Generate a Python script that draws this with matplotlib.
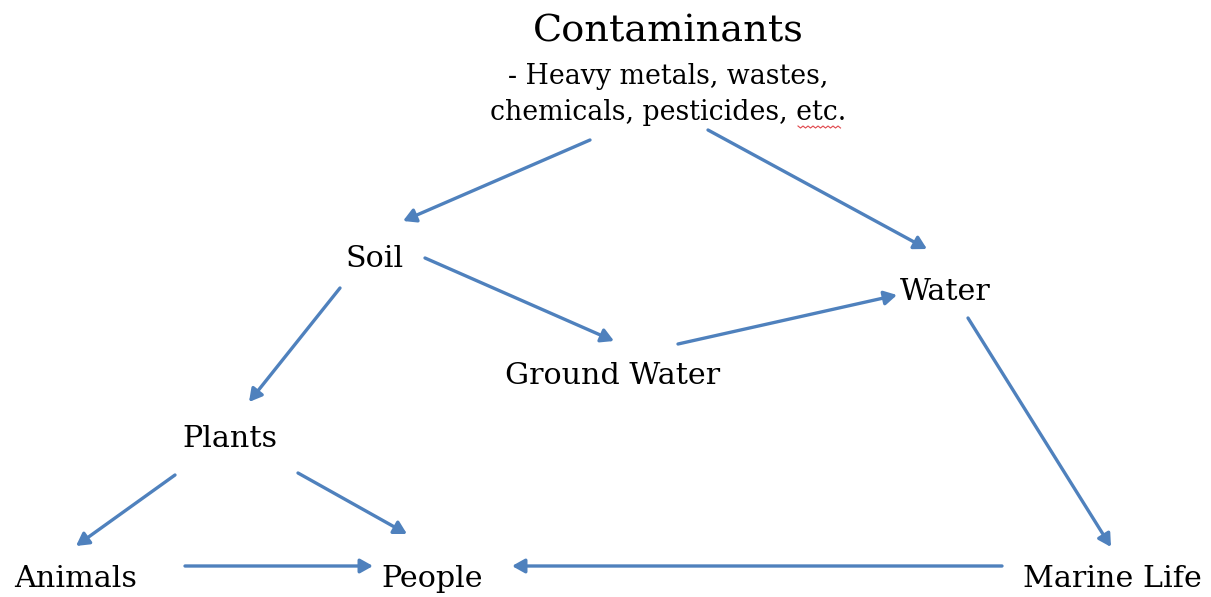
import numpy as np
import matplotlib.pyplot as plt

# node labels and where they sit (pixel coords of the original slide)
node_names = ["Soil", "Water", "Ground Water", "Plants", "Animals", "People", "Marine Life"]
node_x = [375, 945, 613, 230, 76, 432, 1112]
node_y = [259, 292, 376, 439, 579, 579, 579]

title = "Contaminants"
subtitle = ["- Heavy metals, wastes,", "chemicals, pesticides, etc."]

# arrows: (x0, y0, x1, y1)
arrows = [
    (590, 140, 403, 221),
    (708, 130, 927, 249),
    (425, 258, 614, 341),
    (678, 344, 897, 295),
    (968, 318, 1111, 547),
    (340, 288, 249, 402),
    (175, 475, 76, 546),
    (298, 473, 407, 534),
    (185, 566, 373, 566),
    (1002, 566, 512, 566),
]

BLUE = "#4F81BD"
FONT = "DejaVu Serif"

fig = plt.figure(figsize=(12.11, 5.97), dpi=100)
ax = fig.add_axes([0, 0, 1, 1])
ax.set_xlim(0, 1211)
ax.set_ylim(597, 0)
ax.axis("off")

ax.text(668, 32, title, ha="center", va="center", fontsize=27.5, family=FONT)
ax.text(668, 77, subtitle[0], ha="center", va="center", fontsize=19.3, family=FONT)
ax.text(668, 113, subtitle[1], ha="center", va="center", fontsize=19.3, family=FONT)

# spell-check squiggle under "etc."
sx = np.arange(798, 842, 2.5)
sy = 127 + np.where(np.arange(len(sx)) % 2 == 0, -1, 1)
ax.plot(sx, sy, color="#E0474C", lw=0.8)

for name, x, y in zip(node_names, node_x, node_y):
    ax.text(x, y, name, ha="center", va="center", fontsize=21.7, family=FONT)

for x0, y0, x1, y1 in arrows:
    ax.annotate("", xy=(x1, y1), xytext=(x0, y0),
                arrowprops=dict(arrowstyle="-|>,head_length=0.75,head_width=0.42",
                                color=BLUE, lw=2.4, shrinkA=0, shrinkB=0))

fig.savefig("out.png", dpi=100)
